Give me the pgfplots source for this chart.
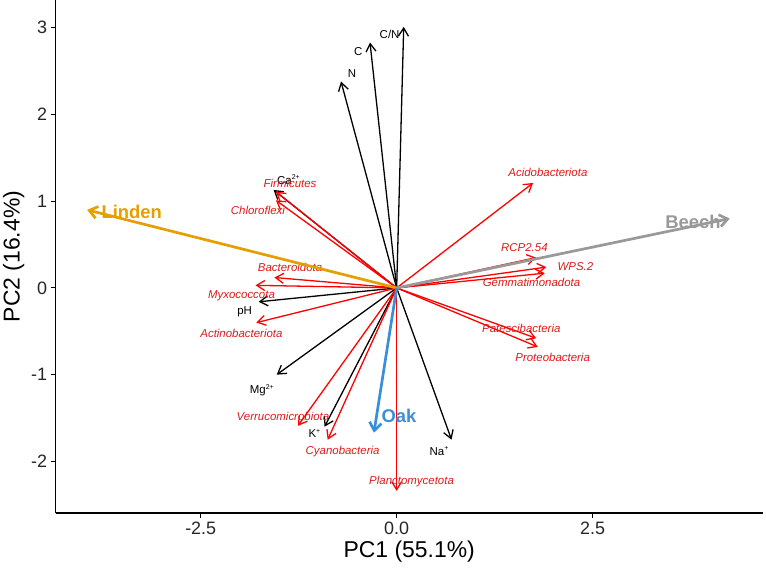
\documentclass[border=0pt]{standalone}
\usepackage{pgfplots}
\pgfplotsset{compat=1.18}
\usepackage{fontspec}
\setmainfont{Liberation Sans}
\usetikzlibrary{arrows.meta}
\definecolor{linden}{HTML}{E69F00}
\definecolor{oak}{HTML}{3A8FDB}
\definecolor{beech}{HTML}{999999}
\definecolor{bred}{HTML}{FF0000}
\definecolor{lred}{HTML}{DD1A1A}
\tikzset{
  arr/.style={line width=1.3bp, -{Straight Barb[length=8bp,width=10bp]}},
  garr/.style={line width=2.7bp, -{Straight Barb[length=8bp,width=12bp]}},
  sp/.style={font=\fontsize{11.5}{12}\selectfont\itshape, text=lred, inner sep=0pt},
  env/.style={font=\fontsize{11.5}{12}\selectfont, text=black, inner sep=0pt},
  grp/.style={font=\fontsize{18.5}{19}\selectfont\bfseries, inner sep=0pt},
}
\newcommand{\sups}[1]{\raisebox{0.75ex}{\fontsize{7}{7}\selectfont #1}}
\begin{document}
\begin{tikzpicture}
\begin{axis}[
  at={(0,0)}, anchor=south west,
  scale only axis, width=707bp, height=513bp,
  xmin=-4.35, xmax=4.67, ymin=-2.595, ymax=3.32,
  axis lines=left, axis line style={-, line width=1.1bp, black},
  xtick={-2.5,0,2.5}, xticklabels={-2.5,0.0,2.5},
  ytick={-2,-1,0,1,2,3}, yticklabels={-2,-1,0,1,2,3},
  tick align=outside, major tick length=5bp,
  tick style={line width=1.1bp, black},
  ticklabel style={font=\fontsize{18}{18}\selectfont, text=black!85},
  xlabel={PC1 (55.1\%)}, ylabel={PC2 (16.4\%)},
  label style={font=\fontsize{23}{23}\selectfont},
  clip=false,
]
% environmental variables (black)
\addplot[arr, black] coordinates {(0,0) (0.09,3.01)};
\addplot[arr, black] coordinates {(0,0) (-0.34,2.83)};
\addplot[arr, black] coordinates {(0,0) (-0.71,2.38)};
\addplot[arr, black] coordinates {(0,0) (-1.57,1.13)};
\addplot[arr, black] coordinates {(0,0) (-1.76,-0.16)};
\addplot[arr, black] coordinates {(0,0) (-1.53,-1.00)};
\addplot[arr, black] coordinates {(0,0) (-0.92,-1.60)};
\addplot[arr, black] coordinates {(0,0) (0.70,-1.75)};
% phyla (red)
\addplot[arr, bred] coordinates {(0,0) (-1.54,1.11)};
\addplot[arr, bred] coordinates {(0,0) (-1.54,1.01)};
\addplot[arr, bred] coordinates {(0,0) (-1.56,0.12)};
\addplot[arr, bred] coordinates {(0,0) (-1.80,0.03)};
\addplot[arr, bred] coordinates {(0,0) (-1.79,-0.40)};
\addplot[arr, bred] coordinates {(0,0) (-1.26,-1.59)};
\addplot[arr, bred] coordinates {(0,0) (-0.88,-1.75)};
\addplot[arr, bred] coordinates {(0,0) (0.00,-2.34)};
\addplot[arr, bred] coordinates {(0,0) (1.74,1.21)};
\addplot[arr, bred] coordinates {(0,0) (1.78,0.35)};
\addplot[arr, bred] coordinates {(0,0) (1.91,0.24)};
\addplot[arr, bred] coordinates {(0,0) (1.89,0.17)};
\addplot[arr, bred] coordinates {(0,0) (1.78,-0.58)};
\addplot[arr, bred] coordinates {(0,0) (1.80,-0.68)};
% labels
\node[env] at (axis cs:-0.09,2.92) {C/N};
\node[env] at (axis cs:-0.49,2.73) {C};
\node[env] at (axis cs:-0.57,2.47) {N};
\node[env] at (axis cs:-1.38,1.25) {Ca\sups{2+}};
\node[env] at (axis cs:-1.94,-0.28) {pH};
\node[env] at (axis cs:-1.72,-1.18) {Mg\sups{2+}};
\node[env] at (axis cs:-1.05,-1.68) {K\sups{+}};
\node[env] at (axis cs:0.54,-1.88) {Na\sups{+}};
\node[sp] at (axis cs:-1.36,1.21) {Firmicutes};
\node[sp] at (axis cs:-1.77,0.89) {Chloroflexi};
\node[sp] at (axis cs:-1.36,0.24) {Bacteroidota};
\node[sp] at (axis cs:-1.98,-0.09) {Myxococcota};
\node[sp] at (axis cs:-1.98,-0.53) {Actinobacteriota};
\node[sp] at (axis cs:-1.45,-1.48) {Verrucomicrobiota};
\node[sp] at (axis cs:-0.69,-1.89) {Cyanobacteria};
\node[sp] at (axis cs:0.19,-2.23) {Planctomycetota};
\node[sp] at (axis cs:1.93,1.33) {Acidobacteriota};
\node[sp] at (axis cs:1.63,0.46) {RCP2.54};
\node[sp] at (axis cs:2.28,0.25) {WPS.2};
\node[sp] at (axis cs:1.72,0.06) {Gemmatimonadota};
\node[sp] at (axis cs:1.59,-0.47) {Patescibacteria};
\node[sp] at (axis cs:1.99,-0.80) {Proteobacteria};
% groups
\addplot[garr, linden] coordinates {(0,0) (-3.95,0.90)};
\addplot[garr, beech] coordinates {(0,0) (4.25,0.80)};
\addplot[garr, oak] coordinates {(0,0) (-0.29,-1.67)};
\node[grp, text=linden] at (axis cs:-3.38,0.88) {Linden};
\node[grp, text=beech] at (axis cs:3.78,0.76) {Beech};
\node[grp, text=oak] at (axis cs:0.03,-1.47) {Oak};
\end{axis}
\pgfresetboundingbox
\path (-55.7bp,-57bp) rectangle (710.3bp,513bp);
\end{tikzpicture}
\end{document}
